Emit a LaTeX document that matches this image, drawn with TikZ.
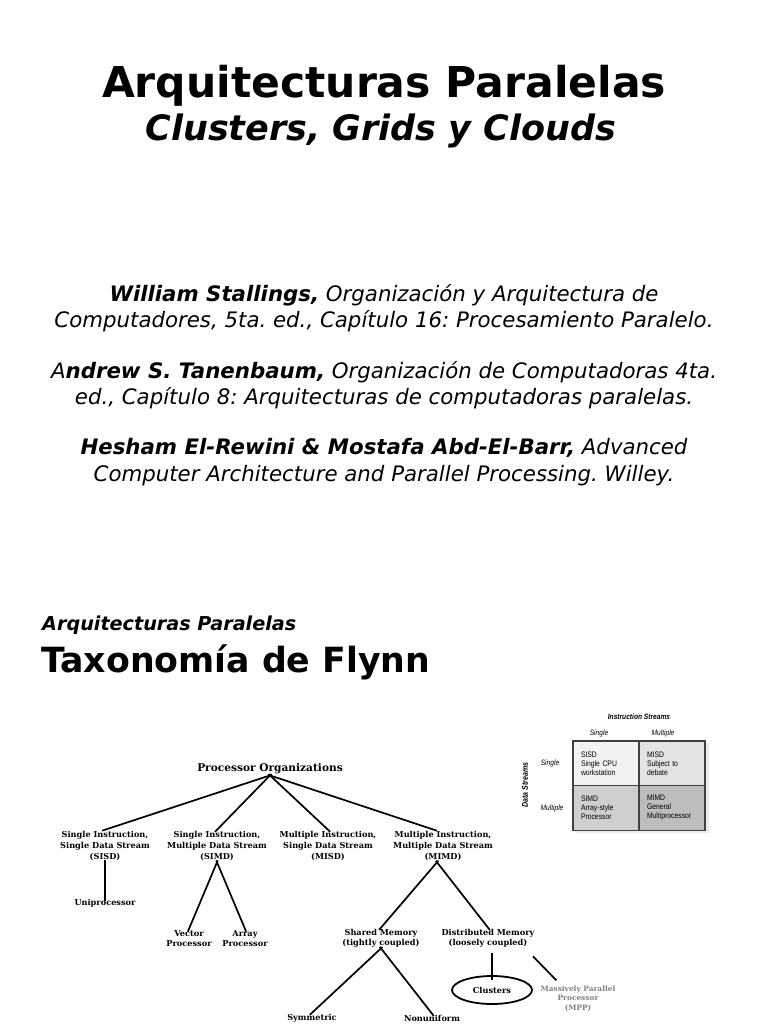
\documentclass[tikz,border=0pt]{standalone}
\usepackage{fontspec}
\setmainfont{DejaVu Sans}
\newfontfamily\figserif{DejaVu Serif}
\newfontfamily\figsans[FakeStretch=0.85]{Liberation Sans}
\usepackage{tikz}
\usetikzlibrary{positioning,shapes.geometric}
\frenchspacing

\begin{document}
\begin{tikzpicture}[
  x=1pt, y=-1pt,
  branch/.style={line width=1.7pt, shorten <=-2pt, shorten >=-3pt},
  leaf/.style={font=\figserif\bfseries\fontsize{8.2}{11.3}\selectfont, align=center, inner sep=1pt},
  cell/.style={draw=black!75, line width=1.3pt, minimum width=66pt, minimum height=45pt,
    text width=50pt, align=left, inner sep=0pt, font=\figsans\fontsize{8}{9}\selectfont},
  hdr/.style={font=\figsans\itshape\fontsize{7.8}{9}\selectfont, inner sep=1pt},
  reftxt/.style={font=\fontsize{21.3}{26.3}\selectfont\itshape, align=center}
]
  \useasboundingbox (0,0) rectangle (768,1024);

  % --- DIAPOSITIVA 1: TITULO Y BIBLIOGRAFIA ---
  \node[anchor=base, font=\bfseries\fontsize{42.5}{50}\selectfont] (titulo) at (384, 98) {Arquitecturas Paralelas};
  \node[anchor=base, font=\bfseries\itshape\fontsize{35}{40}\selectfont] (subtitulo) at (381, 141) {Clusters, Grids y Clouds};

  \node[reftxt] (ref1) at (384, 308) {\textbf{William Stallings,} Organización y Arquitectura de\\
    Computadores, 5ta. ed., Capítulo 16: Procesamiento Paralelo.};
  \node[reftxt] (ref2) at (384, 385) {A\textbf{ndrew S. Tanenbaum,} Organización de Computadoras 4ta.\\
    ed., Capítulo 8: Arquitecturas de computadoras paralelas.};
  \node[reftxt] (ref3) at (384, 462) {\textbf{Hesham El-Rewini \& Mostafa Abd-El-Barr,} Advanced\\
    Computer Architecture and Parallel Processing. Willey.};

  % --- DIAPOSITIVA 2: ENCABEZADO ---
  \node[anchor=base west, inner sep=0pt, font=\bfseries\itshape\fontsize{19.2}{22}\selectfont] (seccion) at (42, 630) {Arquitecturas Paralelas};
  \node[anchor=base west, inner sep=0pt, font=\bfseries\fontsize{34.7}{40}\selectfont] (taxonomia) at (41, 672) {Taxonomía de Flynn};

  % --- ARBOL DE ORGANIZACIONES ---
  \node[leaf, font=\figserif\bfseries\fontsize{10.6}{13}\selectfont] (porg) at (270, 769) {Processor Organizations};
  \node[leaf] (sisd) at (105, 846) {Single Instruction,\\Single Data Stream\\(SISD)};
  \node[leaf] (simd) at (217, 846) {Single Instruction,\\Multiple Data Stream\\(SIMD)};
  \node[leaf] (misd) at (328, 846) {Multiple Instruction,\\Single Data Stream\\(MISD)};
  \node[leaf] (mimd) at (443, 846) {Multiple Instruction,\\Multiple Data Stream\\(MIMD)};

  \node[leaf] (unip) at (105, 903) {Uniprocessor};
  \node[leaf, font=\figserif\bfseries\fontsize{8.2}{10.8}\selectfont] (vector) at (189, 938.5) {Vector\\Processor};
  \node[leaf, font=\figserif\bfseries\fontsize{8.2}{10.8}\selectfont] (array) at (245, 938.5) {Array\\Processor};
  \node[leaf, font=\figserif\bfseries\fontsize{8.2}{10.3}\selectfont] (shared) at (381, 938) {Shared Memory\\(tightly coupled)};
  \node[leaf, font=\figserif\bfseries\fontsize{8.2}{10.3}\selectfont] (distrib) at (488, 938) {Distributed Memory\\(loosely coupled)};

  \node[leaf] (symm) at (312, 1018) {Symmetric};
  \node[leaf] (nonu) at (432, 1018) {Nonuniform};
  \node[draw, ellipse, line width=1.8pt, minimum width=80pt, minimum height=28pt, inner sep=0pt,
    font=\figserif\bfseries\fontsize{8.2}{11}\selectfont] (clusters) at (492, 990) {Clusters};
  \node[leaf, text=black!50, font=\figserif\bfseries\fontsize{7.4}{9.6}\selectfont] (mpp) at (578, 998.5) {Massively Parallel\\Processor\\(MPP)};

  % --- CONEXIONES DEL ARBOL ---
  \foreach \hijo in {sisd, simd, misd}
    \draw[branch] (porg.south) -- (\hijo.north);
  \draw[branch] (porg.south) -- ([xshift=-9pt]mimd.north);
  \draw[branch] (sisd.south) -- (unip.north);
  \draw[branch] (simd.south) -- (vector.north);
  \draw[branch] (simd.south) -- (array.north);
  \draw[branch] ([xshift=-6pt]mimd.south) -- (shared.north);
  \draw[branch] ([xshift=-6pt]mimd.south) -- (distrib.north);
  \draw[branch] (shared.south) -- (symm.north);
  \draw[branch] (shared.south) -- (nonu.north);
  \draw[branch, shorten <=0pt, shorten >=-5pt] ([xshift=4pt,yshift=-5pt]distrib.south) -- (clusters.north);
  \draw[branch, shorten <=0pt, shorten >=0pt] ([xshift=45pt,yshift=-8pt]distrib.south) -- ([xshift=17pt,yshift=4pt]mpp.north west);

  % --- TABLA DE FLYNN ---
  \fill[black!8] (575, 743) rectangle (708.5, 832.5);
  \node[cell, fill=black!5] (sisdc) at (606, 763.5) {SISD\\Single CPU\\workstation};
  \node[cell, fill=black!11] (misdc) at (672, 763.5) {MISD\\Subject to\\debate};
  \node[cell, fill=black!19] (simdc) at (606, 808) {SIMD\\Array-style\\Processor};
  \node[cell, fill=black!26] (mimdc) at (672, 808) {MIMD\\General\\Multiprocessor};

  \node[hdr, font=\figsans\bfseries\itshape\fontsize{7.8}{9}\selectfont] (istreams) at (639, 717) {Instruction Streams};
  \node[hdr] (isingle) at (599, 733) {Single};
  \node[hdr] (imult) at (663, 733) {Multiple};
  \node[hdr] (dsingle) at (550, 763) {Single};
  \node[hdr] (dmult) at (552, 808) {Multiple};
  \node[hdr, font=\figsans\bfseries\itshape\fontsize{8.3}{9}\selectfont, rotate=90] (dstreams) at (525, 785) {Data Streams};

\end{tikzpicture}
\end{document}
